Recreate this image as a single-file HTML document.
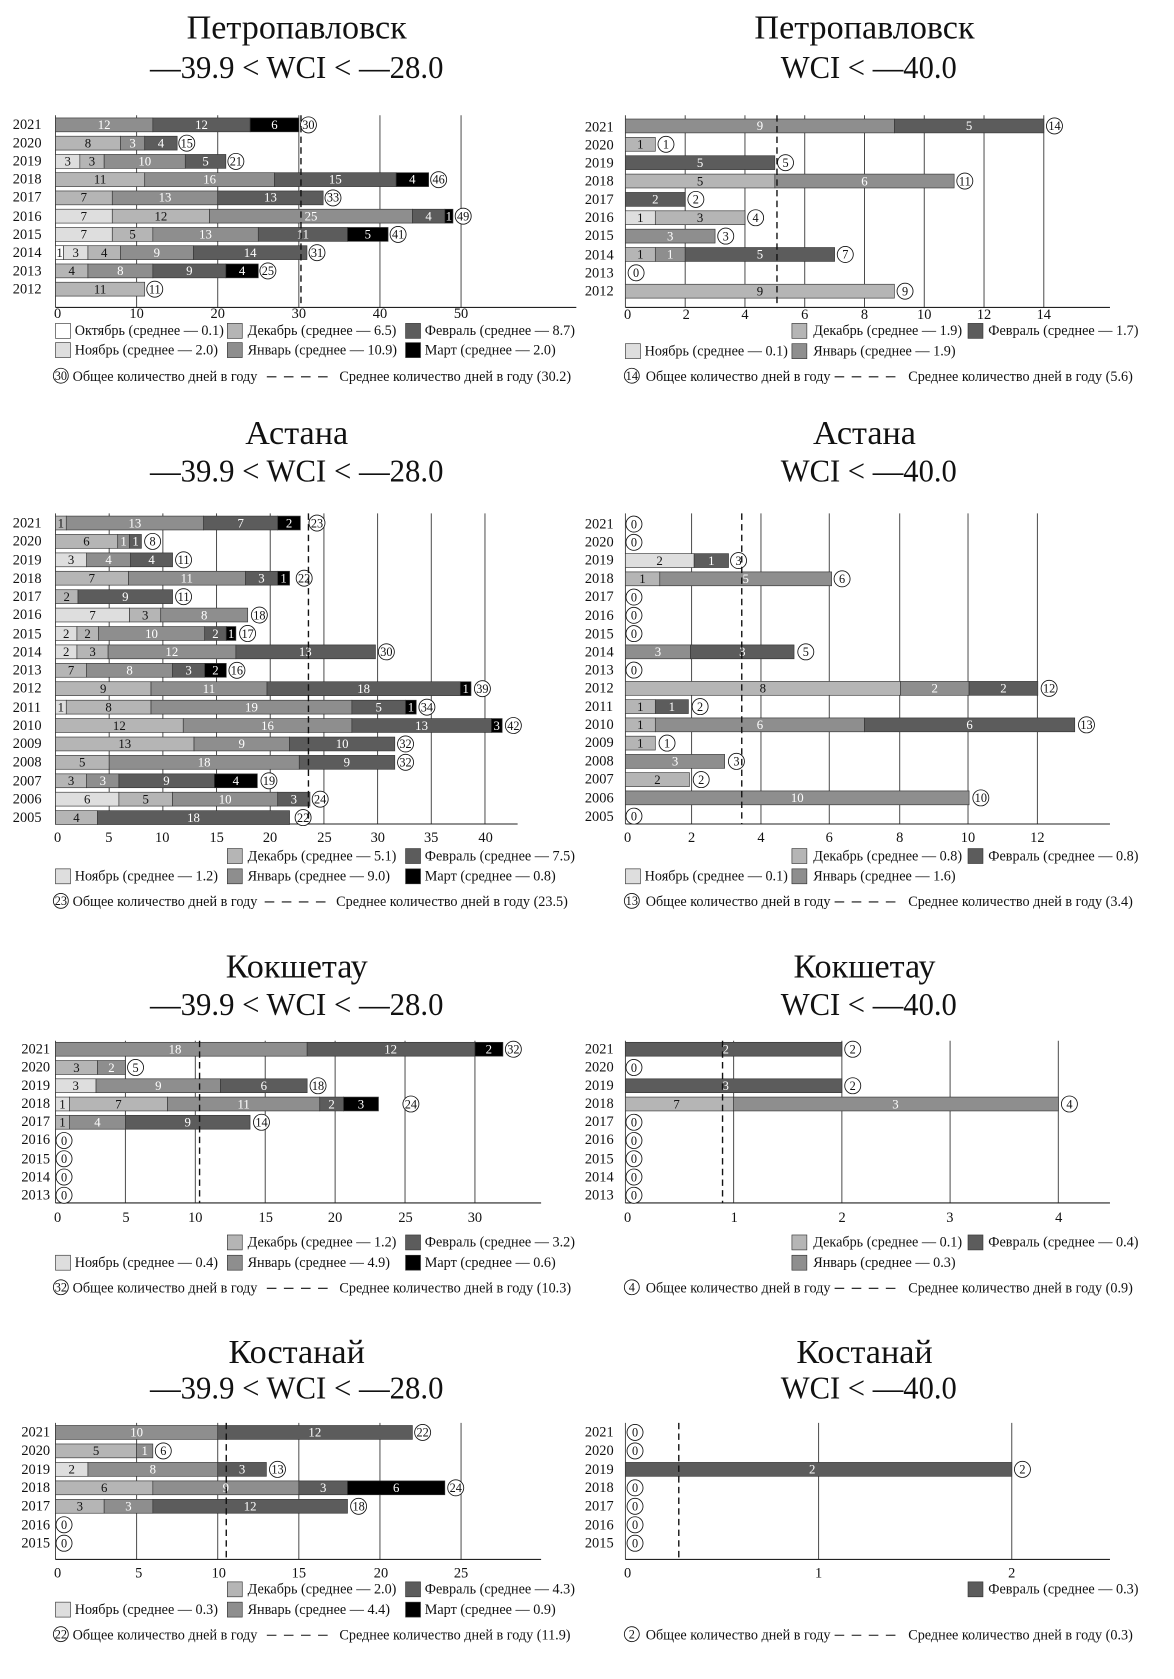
<!DOCTYPE html>
<html><head><meta charset="utf-8"><style>
html,body{margin:0;padding:0;background:#fff;}
svg{display:block;}
text{font-family:"Liberation Serif",serif;fill:#111;}
.t{font-size:32px;text-anchor:middle;}
.t2{font-size:30px;text-anchor:middle;}
.y{font-size:13.5px;}
.k{font-size:13.5px;text-anchor:middle;}
.l{font-size:13.3px;}
.b{font-size:12px;text-anchor:middle;}
.w{fill:#fff;}
.c{font-size:11.5px;text-anchor:middle;}
rect{stroke:#333;stroke-width:0.6;}
.o{fill:#fff}.n{fill:#dedede}.d{fill:#b5b5b5}.j{fill:#8e8e8e}.f{fill:#5c5c5c}.m{fill:#000}
.g{stroke:#444;stroke-width:0.9;}
.a{stroke:#222;stroke-width:1;}
.ds{stroke:#111;stroke-width:1.3;stroke-dasharray:6,4;}
.dl{stroke:#111;stroke-width:1;stroke-dasharray:9,7;}
circle{fill:#fff;stroke:#111;stroke-width:0.8;}
</style></head><body>
<svg width="1174" height="1679" viewBox="0 0 1100 1573" preserveAspectRatio="none" xmlns="http://www.w3.org/2000/svg">

<!-- ============ PANEL 1 ============ -->
<text class="t" x="278" y="36">Петропавловск</text>
<text class="t2" x="278" y="73" textLength="275" lengthAdjust="spacingAndGlyphs">—39.9 &lt; WCI &lt; —28.0</text>
<g>
<line class="g" x1="52" y1="108" x2="52" y2="288"/>
<line class="g" x1="128" y1="108" x2="128" y2="288"/>
<line class="g" x1="204" y1="108" x2="204" y2="288"/>
<line class="g" x1="280" y1="108" x2="280" y2="288"/>
<line class="g" x1="356" y1="108" x2="356" y2="288"/>
<line class="g" x1="432" y1="108" x2="432" y2="288"/>
<line class="a" x1="52" y1="288" x2="540" y2="288"/>
<text class="k" x="54" y="298">0</text><text class="k" x="128" y="298">10</text><text class="k" x="204" y="298">20</text><text class="k" x="280" y="298">30</text><text class="k" x="356" y="298">40</text><text class="k" x="432" y="298">50</text>
<text class="y" x="12" y="121">2021</text><text class="y" x="12" y="138">2020</text><text class="y" x="12" y="155">2019</text><text class="y" x="12" y="172">2018</text><text class="y" x="12" y="189">2017</text><text class="y" x="12" y="207">2016</text><text class="y" x="12" y="224">2015</text><text class="y" x="12" y="241">2014</text><text class="y" x="12" y="258">2013</text><text class="y" x="12" y="275">2012</text>

<rect class="j" x="52" y="110.5" width="91.2" height="13"/><text class="b w" x="97.6" y="121">12</text>
<rect class="f" x="143.2" y="110.5" width="91.2" height="13"/><text class="b w" x="188.8" y="121">12</text>
<rect class="m" x="234.4" y="110.5" width="45.6" height="13"/><text class="b w" x="257.2" y="121">6</text>
<circle cx="289" cy="117" r="7.5"/><text class="c" x="289" y="121">30</text>

<rect class="d" x="52" y="127.6" width="60.8" height="13"/><text class="b" x="82.4" y="138">8</text>
<rect class="j" x="112.8" y="127.6" width="22.8" height="13"/><text class="b w" x="124.2" y="138">3</text>
<rect class="f" x="135.6" y="127.6" width="30.4" height="13"/><text class="b w" x="150.8" y="138">4</text>
<circle cx="175" cy="134.1" r="7.5"/><text class="c" x="175" y="138">15</text>

<rect class="n" x="52" y="144.7" width="22.8" height="13"/><text class="b" x="63.4" y="155">3</text>
<rect class="d" x="74.8" y="144.7" width="22.8" height="13"/><text class="b" x="86.2" y="155">3</text>
<rect class="j" x="97.6" y="144.7" width="76" height="13"/><text class="b w" x="135.6" y="155">10</text>
<rect class="f" x="173.6" y="144.7" width="38" height="13"/><text class="b w" x="192.6" y="155">5</text>
<circle cx="221" cy="151.2" r="7.5"/><text class="c" x="221" y="155">21</text>

<rect class="d" x="52" y="161.8" width="83.6" height="13"/><text class="b" x="93.8" y="172">11</text>
<rect class="j" x="135.6" y="161.8" width="121.6" height="13"/><text class="b w" x="196.4" y="172">16</text>
<rect class="f" x="257.2" y="161.8" width="114" height="13"/><text class="b w" x="314.2" y="172">15</text>
<rect class="m" x="371.2" y="161.8" width="30.4" height="13"/><text class="b w" x="386.4" y="172">4</text>
<circle cx="411" cy="168.3" r="7.5"/><text class="c" x="411" y="172">46</text>

<rect class="d" x="52" y="178.9" width="53.2" height="13"/><text class="b" x="78.6" y="189">7</text>
<rect class="j" x="105.2" y="178.9" width="98.8" height="13"/><text class="b w" x="154.6" y="189">13</text>
<rect class="f" x="204" y="178.9" width="98.8" height="13"/><text class="b w" x="253.4" y="189">13</text>
<circle cx="312" cy="185.4" r="7.5"/><text class="c" x="312" y="189">33</text>

<rect class="n" x="52" y="196" width="53.2" height="13"/><text class="b" x="78.6" y="206.5">7</text>
<rect class="d" x="105.2" y="196" width="91.2" height="13"/><text class="b" x="150.8" y="206.5">12</text>
<rect class="j" x="196.4" y="196" width="190" height="13"/><text class="b w" x="291.4" y="206.5">25</text>
<rect class="f" x="386.4" y="196" width="30.4" height="13"/><text class="b w" x="401.6" y="206.5">4</text>
<rect class="m" x="416.8" y="196" width="7.6" height="13"/><text class="b w" x="420.6" y="206.5">1</text>
<circle cx="434" cy="202.5" r="7.5"/><text class="c" x="434" y="206.5">49</text>

<rect class="n" x="52" y="213.1" width="53.2" height="13"/><text class="b" x="78.6" y="223.6">7</text>
<rect class="d" x="105.2" y="213.1" width="38" height="13"/><text class="b" x="124.2" y="223.6">5</text>
<rect class="j" x="143.2" y="213.1" width="98.8" height="13"/><text class="b w" x="192.6" y="223.6">13</text>
<rect class="f" x="242" y="213.1" width="83.6" height="13"/><text class="b w" x="283.8" y="223.6">11</text>
<rect class="m" x="325.6" y="213.1" width="38" height="13"/><text class="b w" x="344.6" y="223.6">5</text>
<circle cx="373" cy="219.6" r="7.5"/><text class="c" x="373" y="223.6">41</text>

<rect class="o" x="52" y="230.2" width="7.6" height="13"/><text class="b" x="55.8" y="240.7">1</text>
<rect class="n" x="59.6" y="230.2" width="22.8" height="13"/><text class="b" x="71" y="240.7">3</text>
<rect class="d" x="82.4" y="230.2" width="30.4" height="13"/><text class="b" x="97.6" y="240.7">4</text>
<rect class="j" x="112.8" y="230.2" width="68.4" height="13"/><text class="b w" x="147" y="240.7">9</text>
<rect class="f" x="181.2" y="230.2" width="106.4" height="13"/><text class="b w" x="234.4" y="240.7">14</text>
<circle cx="297" cy="236.7" r="7.5"/><text class="c" x="297" y="240.7">31</text>

<rect class="d" x="52" y="247.3" width="30.4" height="13"/><text class="b" x="67.2" y="257.8">4</text>
<rect class="j" x="82.4" y="247.3" width="60.8" height="13"/><text class="b w" x="112.8" y="257.8">8</text>
<rect class="f" x="143.2" y="247.3" width="68.4" height="13"/><text class="b w" x="177.4" y="257.8">9</text>
<rect class="m" x="211.6" y="247.3" width="30.4" height="13"/><text class="b w" x="226.8" y="257.8">4</text>
<circle cx="251" cy="253.8" r="7.5"/><text class="c" x="251" y="257.8">25</text>

<rect class="d" x="52" y="264.4" width="83.6" height="13"/><text class="b" x="93.8" y="274.9">11</text>
<circle cx="145" cy="270.9" r="7.5"/><text class="c" x="145" y="274.9">11</text>
<line class="ds" x1="282" y1="108" x2="282" y2="288"/>

<rect class="o" x="52" y="303" width="14" height="14"/><text class="l" x="70" y="314">Октябрь (среднее — 0.1)</text>
<rect class="d" x="213" y="303" width="14" height="14"/><text class="l" x="232" y="314">Декабрь (среднее — 6.5)</text>
<rect class="f" x="380" y="303" width="14" height="14"/><text class="l" x="398" y="314">Февраль (среднее — 8.7)</text>
<rect class="n" x="52" y="321" width="14" height="14"/><text class="l" x="70" y="332">Ноябрь (среднее — 2.0)</text>
<rect class="j" x="213" y="321" width="14" height="14"/><text class="l" x="232" y="332">Январь (среднее — 10.9)</text>
<rect class="m" x="380" y="321" width="14" height="14"/><text class="l" x="398" y="332">Март (среднее  —  2.0)</text>
<circle cx="57" cy="352" r="7"/><text class="c" x="57" y="356">30</text>
<text class="l" x="68" y="357">Общее количество дней в году</text>
<line class="dl" x1="250" y1="353" x2="314" y2="353"/>
<text class="l" x="318" y="357">Среднее количество дней в году (30.2)</text>
</g>

<!-- ============ PANEL 2 ============ -->
<text class="t" x="810" y="36">Петропавловск</text>
<text class="t2" x="814" y="73" textLength="165" lengthAdjust="spacingAndGlyphs">WCI &lt; —40.0</text>
<g>
<line class="g" x1="586" y1="108" x2="586" y2="288"/>
<line class="g" x1="642" y1="108" x2="642" y2="288"/>
<line class="g" x1="698" y1="108" x2="698" y2="288"/>
<line class="g" x1="754" y1="108" x2="754" y2="288"/>
<line class="g" x1="810" y1="108" x2="810" y2="288"/>
<line class="g" x1="866" y1="108" x2="866" y2="288"/>
<line class="g" x1="922" y1="108" x2="922" y2="288"/>
<line class="g" x1="978" y1="108" x2="978" y2="288"/>
<line class="a" x1="586" y1="288" x2="1040" y2="288"/>
<text class="k" x="588" y="299">0</text><text class="k" x="643" y="299">2</text><text class="k" x="698" y="299">4</text><text class="k" x="754" y="299">6</text><text class="k" x="810" y="299">8</text><text class="k" x="866" y="299">10</text><text class="k" x="922" y="299">12</text><text class="k" x="978" y="299">14</text>
<text class="y" x="548" y="123">2021</text><text class="y" x="548" y="140">2020</text><text class="y" x="548" y="157">2019</text><text class="y" x="548" y="174">2018</text><text class="y" x="548" y="191">2017</text><text class="y" x="548" y="208">2016</text><text class="y" x="548" y="225">2015</text><text class="y" x="548" y="243">2014</text><text class="y" x="548" y="260">2013</text><text class="y" x="548" y="277">2012</text>

<rect class="j" x="586" y="111.5" width="252" height="13"/><text class="b w" x="712" y="122">9</text>
<rect class="f" x="838" y="111.5" width="140" height="13"/><text class="b w" x="908" y="122">5</text>
<circle cx="988" cy="118" r="7.5"/><text class="c" x="988" y="122">14</text>
<rect class="d" x="586" y="128.7" width="28" height="13"/><text class="b" x="600" y="139">1</text>
<circle cx="624" cy="135.2" r="7.5"/><text class="c" x="624" y="139">1</text>
<rect class="f" x="586" y="145.9" width="140" height="13"/><text class="b w" x="656" y="156.4">5</text>
<circle cx="736" cy="152.4" r="7.5"/><text class="c" x="736" y="156.4">5</text>
<rect class="d" x="586" y="163.1" width="140" height="13"/><text class="b" x="656" y="173.6">5</text>
<rect class="j" x="726" y="163.1" width="168" height="13"/><text class="b w" x="810" y="173.6">6</text>
<circle cx="904" cy="169.6" r="7.5"/><text class="c" x="904" y="173.6">11</text>
<rect class="f" x="586" y="180.3" width="56" height="13"/><text class="b w" x="614" y="190.8">2</text>
<circle cx="652" cy="186.8" r="7.5"/><text class="c" x="652" y="190.8">2</text>
<rect class="n" x="586" y="197.5" width="28" height="13"/><text class="b" x="600" y="208">1</text>
<rect class="d" x="614" y="197.5" width="84" height="13"/><text class="b" x="656" y="208">3</text>
<circle cx="708" cy="204" r="7.5"/><text class="c" x="708" y="208">4</text>
<rect class="j" x="586" y="214.7" width="84" height="13"/><text class="b w" x="628" y="225.2">3</text>
<circle cx="680" cy="221.2" r="7.5"/><text class="c" x="680" y="225.2">3</text>
<rect class="d" x="586" y="231.9" width="28" height="13"/><text class="b" x="600" y="242.4">1</text>
<rect class="j" x="614" y="231.9" width="28" height="13"/><text class="b w" x="628" y="242.4">1</text>
<rect class="f" x="642" y="231.9" width="140" height="13"/><text class="b w" x="712" y="242.4">5</text>
<circle cx="792" cy="238.4" r="7.5"/><text class="c" x="792" y="242.4">7</text>
<circle cx="596" cy="255.6" r="7.5"/><text class="c" x="596" y="259.6">0</text>
<rect class="d" x="586" y="266.3" width="252" height="13"/><text class="b" x="712" y="276.8">9</text>
<circle cx="848" cy="272.8" r="7.5"/><text class="c" x="848" y="276.8">9</text>
<line class="ds" x1="728" y1="108" x2="728" y2="288"/>

<rect class="d" x="742" y="303" width="14" height="14"/><text class="l" x="762" y="314">Декабрь (среднее — 1.9)</text>
<rect class="f" x="907" y="303" width="14" height="14"/><text class="l" x="926" y="314">Февраль (среднее — 1.7)</text>
<rect class="n" x="586" y="322" width="14" height="14"/><text class="l" x="604" y="333">Ноябрь (среднее — 0.1)</text>
<rect class="j" x="742" y="322" width="14" height="14"/><text class="l" x="762" y="333">Январь (среднее — 1.9)</text>
<circle cx="592" cy="352" r="7"/><text class="c" x="592" y="356">14</text>
<text class="l" x="605" y="357">Общее количество дней в году</text>
<line class="dl" x1="782" y1="353" x2="846" y2="353"/>
<text class="l" x="851" y="357">Среднее количество дней в году (5.6)</text>
</g>

<!-- ============ PANEL 3 ============ -->
<text class="t" x="278" y="416">Астана</text>
<text class="t2" x="278" y="451" textLength="275" lengthAdjust="spacingAndGlyphs">—39.9 &lt; WCI &lt; —28.0</text>
<g>
<line class="g" x1="52" y1="481" x2="52" y2="772"/>
<line class="g" x1="102.3" y1="481" x2="102.3" y2="772"/>
<line class="g" x1="152.6" y1="481" x2="152.6" y2="772"/>
<line class="g" x1="202.9" y1="481" x2="202.9" y2="772"/>
<line class="g" x1="253.2" y1="481" x2="253.2" y2="772"/>
<line class="g" x1="303.5" y1="481" x2="303.5" y2="772"/>
<line class="g" x1="353.8" y1="481" x2="353.8" y2="772"/>
<line class="g" x1="404.1" y1="481" x2="404.1" y2="772"/>
<line class="g" x1="454.4" y1="481" x2="454.4" y2="772"/>
<line class="a" x1="52" y1="772" x2="485" y2="772"/>
<text class="k" x="54" y="789">0</text><text class="k" x="102" y="789">5</text><text class="k" x="152" y="789">10</text><text class="k" x="203" y="789">15</text><text class="k" x="253" y="789">20</text><text class="k" x="304" y="789">25</text><text class="k" x="354" y="789">30</text><text class="k" x="404" y="789">35</text><text class="k" x="455" y="789">40</text>
<text class="y" x="12" y="494">2021</text><text class="y" x="12" y="511">2020</text><text class="y" x="12" y="529">2019</text><text class="y" x="12" y="546">2018</text><text class="y" x="12" y="563">2017</text><text class="y" x="12" y="580">2016</text><text class="y" x="12" y="598">2015</text><text class="y" x="12" y="615">2014</text><text class="y" x="12" y="632">2013</text><text class="y" x="12" y="649">2012</text><text class="y" x="12" y="667">2011</text><text class="y" x="12" y="684">2010</text><text class="y" x="12" y="701">2009</text><text class="y" x="12" y="718">2008</text><text class="y" x="12" y="736">2007</text><text class="y" x="12" y="753">2006</text><text class="y" x="12" y="770">2005</text>

<rect class="d" x="52" y="483.5" width="10.1" height="13"/><text class="b" x="57" y="494">1</text>
<rect class="j" x="62.1" y="483.5" width="128.7" height="13"/><text class="b w" x="126.4" y="494">13</text>
<rect class="f" x="190.8" y="483.5" width="69.4" height="13"/><text class="b w" x="225.5" y="494">7</text>
<rect class="m" x="260.2" y="483.5" width="21.2" height="13"/><text class="b w" x="270.8" y="494">2</text>
<circle cx="297" cy="490" r="7.5"/><text class="c" x="297" y="494">23</text>

<rect class="d" x="52" y="500.7" width="58.3" height="13"/><text class="b" x="81" y="511.2">6</text>
<rect class="j" x="110.3" y="500.7" width="11.1" height="13"/><text class="b w" x="115.8" y="511.2">1</text>
<rect class="f" x="121.4" y="500.7" width="11.1" height="13"/><text class="b w" x="127" y="511.2">1</text>
<circle cx="143" cy="507.2" r="7.5"/><text class="c" x="143" y="511.2">8</text>

<rect class="n" x="52" y="518" width="29.2" height="13"/><text class="b" x="66.6" y="528.5">3</text>
<rect class="j" x="81.2" y="518" width="41.2" height="13"/><text class="b w" x="101.8" y="528.5">4</text>
<rect class="f" x="122.4" y="518" width="39.3" height="13"/><text class="b w" x="142" y="528.5">4</text>
<circle cx="172" cy="524.5" r="7.5"/><text class="c" x="172" y="528.5">11</text>

<rect class="d" x="52" y="535.2" width="68.4" height="13"/><text class="b" x="86" y="545.7">7</text>
<rect class="j" x="120.4" y="535.2" width="109.7" height="13"/><text class="b w" x="175" y="545.7">11</text>
<rect class="f" x="230.1" y="535.2" width="30.1" height="13"/><text class="b w" x="245" y="545.7">3</text>
<rect class="m" x="260.2" y="535.2" width="11.1" height="13"/><text class="b w" x="265.7" y="545.7">1</text>
<circle cx="285" cy="541.7" r="7.5"/><text class="c" x="285" y="545.7">22</text>

<rect class="d" x="52" y="552.5" width="21.1" height="13"/><text class="b" x="62.5" y="563">2</text>
<rect class="f" x="73.1" y="552.5" width="88.6" height="13"/><text class="b w" x="117.4" y="563">9</text>
<circle cx="172" cy="559" r="7.5"/><text class="c" x="172" y="563">11</text>

<rect class="n" x="52" y="569.7" width="69.4" height="13"/><text class="b" x="86.7" y="580.2">7</text>
<rect class="d" x="121.4" y="569.7" width="29.2" height="13"/><text class="b" x="136" y="580.2">3</text>
<rect class="j" x="150.6" y="569.7" width="81.5" height="13"/><text class="b w" x="191.3" y="580.2">8</text>
<circle cx="243" cy="576.2" r="7.5"/><text class="c" x="243" y="580.2">18</text>

<rect class="n" x="52" y="587" width="20.1" height="13"/><text class="b" x="62" y="597.5">2</text>
<rect class="d" x="72.1" y="587" width="20.1" height="13"/><text class="b" x="82.1" y="597.5">2</text>
<rect class="j" x="92.2" y="587" width="99.6" height="13"/><text class="b w" x="142" y="597.5">10</text>
<rect class="f" x="191.8" y="587" width="20.2" height="13"/><text class="b w" x="201.9" y="597.5">2</text>
<rect class="m" x="212" y="587" width="9" height="13"/><text class="b w" x="216.5" y="597.5">1</text>
<circle cx="232" cy="593.5" r="7.5"/><text class="c" x="232" y="597.5">17</text>

<rect class="n" x="52" y="604.2" width="20.1" height="13"/><text class="b" x="62" y="614.7">2</text>
<rect class="d" x="72.1" y="604.2" width="29.2" height="13"/><text class="b" x="86.7" y="614.7">3</text>
<rect class="j" x="101.3" y="604.2" width="119.7" height="13"/><text class="b w" x="161" y="614.7">12</text>
<rect class="f" x="221" y="604.2" width="130.8" height="13"/><text class="b w" x="286" y="614.7">13</text>
<circle cx="362" cy="610.7" r="7.5"/><text class="c" x="362" y="614.7">30</text>

<rect class="d" x="52" y="621.5" width="29.2" height="13"/><text class="b" x="66.6" y="632">7</text>
<rect class="j" x="81.2" y="621.5" width="80.5" height="13"/><text class="b w" x="121.4" y="632">8</text>
<rect class="f" x="161.7" y="621.5" width="30.1" height="13"/><text class="b w" x="176.7" y="632">3</text>
<rect class="m" x="191.8" y="621.5" width="20.2" height="13"/><text class="b w" x="201.9" y="632">2</text>
<circle cx="222" cy="628" r="7.5"/><text class="c" x="222" y="632">16</text>

<rect class="d" x="52" y="638.7" width="89.5" height="13"/><text class="b" x="96.7" y="649.2">9</text>
<rect class="j" x="141.5" y="638.7" width="108.7" height="13"/><text class="b w" x="195.8" y="649.2">11</text>
<rect class="f" x="250.2" y="638.7" width="181.1" height="13"/><text class="b w" x="340.7" y="649.2">18</text>
<rect class="m" x="431.3" y="638.7" width="10" height="13"/><text class="b w" x="436.3" y="649.2">1</text>
<circle cx="452" cy="645.2" r="7.5"/><text class="c" x="452" y="649.2">39</text>

<rect class="n" x="52" y="656" width="10.1" height="13"/><text class="b" x="57" y="666.5">1</text>
<rect class="d" x="62.1" y="656" width="79.4" height="13"/><text class="b" x="101.8" y="666.5">8</text>
<rect class="j" x="141.5" y="656" width="188.2" height="13"/><text class="b w" x="235.6" y="666.5">19</text>
<rect class="f" x="329.7" y="656" width="50.3" height="13"/><text class="b w" x="354.8" y="666.5">5</text>
<rect class="m" x="380" y="656" width="10" height="13"/><text class="b w" x="385" y="666.5">1</text>
<circle cx="400" cy="662.5" r="7.5"/><text class="c" x="400" y="666.5">34</text>

<rect class="d" x="52" y="673.2" width="119.7" height="13"/><text class="b" x="111.8" y="683.7">12</text>
<rect class="j" x="171.7" y="673.2" width="158" height="13"/><text class="b w" x="250.7" y="683.7">16</text>
<rect class="f" x="329.7" y="673.2" width="130.7" height="13"/><text class="b w" x="395" y="683.7">13</text>
<rect class="m" x="460.4" y="673.2" width="10.1" height="13"/><text class="b w" x="465.4" y="683.7">3</text>
<circle cx="481" cy="679.7" r="7.5"/><text class="c" x="481" y="683.7">42</text>

<rect class="d" x="52" y="690.5" width="129.8" height="13"/><text class="b" x="116.9" y="701">13</text>
<rect class="j" x="181.8" y="690.5" width="89.5" height="13"/><text class="b w" x="226.5" y="701">9</text>
<rect class="f" x="271.3" y="690.5" width="98.6" height="13"/><text class="b w" x="320.6" y="701">10</text>
<circle cx="380" cy="697" r="7.5"/><text class="c" x="380" y="701">32</text>

<rect class="d" x="52" y="707.7" width="50.3" height="13"/><text class="b" x="77" y="718.2">5</text>
<rect class="j" x="102.3" y="707.7" width="178.1" height="13"/><text class="b w" x="191.3" y="718.2">18</text>
<rect class="f" x="280.4" y="707.7" width="89.5" height="13"/><text class="b w" x="325" y="718.2">9</text>
<circle cx="380" cy="714.2" r="7.5"/><text class="c" x="380" y="718.2">32</text>

<rect class="d" x="52" y="725" width="29.2" height="13"/><text class="b" x="66.6" y="735.5">3</text>
<rect class="j" x="81.2" y="725" width="30.2" height="13"/><text class="b w" x="96.3" y="735.5">3</text>
<rect class="f" x="111.4" y="725" width="89.5" height="13"/><text class="b w" x="156" y="735.5">9</text>
<rect class="m" x="200.9" y="725" width="40.2" height="13"/><text class="b w" x="221" y="735.5">4</text>
<circle cx="252" cy="731.5" r="7.5"/><text class="c" x="252" y="735.5">19</text>

<rect class="n" x="52" y="742.2" width="59.4" height="13"/><text class="b" x="81.7" y="752.7">6</text>
<rect class="d" x="111.4" y="742.2" width="50.3" height="13"/><text class="b" x="136.5" y="752.7">5</text>
<rect class="j" x="161.7" y="742.2" width="98.5" height="13"/><text class="b w" x="211" y="752.7">10</text>
<rect class="f" x="260.2" y="742.2" width="30.2" height="13"/><text class="b w" x="275.3" y="752.7">3</text>
<circle cx="300" cy="748.7" r="7.5"/><text class="c" x="300" y="752.7">24</text>

<rect class="d" x="52" y="759.5" width="39.2" height="13"/><text class="b" x="71.6" y="770">4</text>
<rect class="f" x="91.2" y="759.5" width="180.1" height="13"/><text class="b w" x="181.3" y="770">18</text>
<circle cx="284" cy="766" r="7.5"/><text class="c" x="284" y="770">22</text>
<line class="ds" x1="289" y1="481" x2="289" y2="772"/>

<rect class="d" x="213" y="795" width="14" height="14"/><text class="l" x="232" y="806">Декабрь (среднее — 5.1)</text>
<rect class="f" x="380" y="795" width="14" height="14"/><text class="l" x="398" y="806">Февраль (среднее — 7.5)</text>
<rect class="n" x="52" y="814" width="14" height="14"/><text class="l" x="70" y="825">Ноябрь (среднее — 1.2)</text>
<rect class="j" x="213" y="814" width="14" height="14"/><text class="l" x="232" y="825">Январь (среднее — 9.0)</text>
<rect class="m" x="380" y="814" width="14" height="14"/><text class="l" x="398" y="825">Март (среднее  —  0.8)</text>
<circle cx="57" cy="844" r="7"/><text class="c" x="57" y="848">23</text>
<text class="l" x="68" y="849">Общее количество дней в году</text>
<line class="dl" x1="248" y1="845" x2="310" y2="845"/>
<text class="l" x="315" y="849">Среднее количество дней в году (23.5)</text>
</g>

<!-- ============ PANEL 4 ============ -->
<text class="t" x="810" y="416">Астана</text>
<text class="t2" x="814" y="451" textLength="165" lengthAdjust="spacingAndGlyphs">WCI &lt; —40.0</text>
<g>
<line class="g" x1="586" y1="481" x2="586" y2="772"/>
<line class="g" x1="648" y1="481" x2="648" y2="772"/>
<line class="g" x1="713" y1="481" x2="713" y2="772"/>
<line class="g" x1="777" y1="481" x2="777" y2="772"/>
<line class="g" x1="843" y1="481" x2="843" y2="772"/>
<line class="g" x1="907" y1="481" x2="907" y2="772"/>
<line class="g" x1="972" y1="481" x2="972" y2="772"/>
<line class="a" x1="586" y1="772" x2="1040" y2="772"/>
<text class="k" x="588" y="789">0</text><text class="k" x="648" y="789">2</text><text class="k" x="713" y="789">4</text><text class="k" x="777" y="789">6</text><text class="k" x="843" y="789">8</text><text class="k" x="907" y="789">10</text><text class="k" x="972" y="789">12</text>
<text class="y" x="548" y="495">2021</text><text class="y" x="548" y="512">2020</text><text class="y" x="548" y="529">2019</text><text class="y" x="548" y="546">2018</text><text class="y" x="548" y="563">2017</text><text class="y" x="548" y="581">2016</text><text class="y" x="548" y="598">2015</text><text class="y" x="548" y="615">2014</text><text class="y" x="548" y="632">2013</text><text class="y" x="548" y="649">2012</text><text class="y" x="548" y="666">2011</text><text class="y" x="548" y="683">2010</text><text class="y" x="548" y="700">2009</text><text class="y" x="548" y="717">2008</text><text class="y" x="548" y="734">2007</text><text class="y" x="548" y="752">2006</text><text class="y" x="548" y="769">2005</text>

<circle cx="594" cy="491" r="7.5"/><text class="c" x="594" y="495">0</text>
<circle cx="594" cy="508.1" r="7.5"/><text class="c" x="594" y="512">0</text>
<rect class="n" x="586" y="518.7" width="64.4" height="13"/><text class="b" x="618" y="529.2">2</text>
<rect class="f" x="650.4" y="518.7" width="32.2" height="13"/><text class="b w" x="666.5" y="529.2">1</text>
<circle cx="692" cy="525.2" r="7.5"/><text class="c" x="692" y="529.2">3</text>
<rect class="d" x="586" y="535.8" width="32.2" height="13"/><text class="b" x="602" y="546.3">1</text>
<rect class="j" x="618.2" y="535.8" width="161" height="13"/><text class="b w" x="698.7" y="546.3">5</text>
<circle cx="789" cy="542.3" r="7.5"/><text class="c" x="789" y="546.3">6</text>
<circle cx="594" cy="559.4" r="7.5"/><text class="c" x="594" y="563.4">0</text>
<circle cx="594" cy="576.5" r="7.5"/><text class="c" x="594" y="580.5">0</text>
<circle cx="594" cy="593.6" r="7.5"/><text class="c" x="594" y="597.6">0</text>
<rect class="j" x="586" y="604.2" width="61" height="13"/><text class="b w" x="616.5" y="614.7">3</text>
<rect class="f" x="647" y="604.2" width="97" height="13"/><text class="b w" x="695.5" y="614.7">3</text>
<circle cx="755" cy="610.7" r="7.5"/><text class="c" x="755" y="614.7">5</text>
<circle cx="594" cy="627.8" r="7.5"/><text class="c" x="594" y="631.8">0</text>
<rect class="d" x="586" y="638.4" width="257.6" height="13"/><text class="b" x="714.8" y="648.9">8</text>
<rect class="j" x="843.6" y="638.4" width="64.4" height="13"/><text class="b w" x="875.8" y="648.9">2</text>
<rect class="f" x="908" y="638.4" width="64.4" height="13"/><text class="b w" x="940.2" y="648.9">2</text>
<circle cx="983" cy="644.9" r="7.5"/><text class="c" x="983" y="648.9">12</text>
<rect class="d" x="586" y="655.5" width="28" height="13"/><text class="b" x="600" y="666">1</text>
<rect class="f" x="614" y="655.5" width="31" height="13"/><text class="b w" x="629.5" y="666">1</text>
<circle cx="656" cy="662" r="7.5"/><text class="c" x="656" y="666">2</text>
<rect class="d" x="586" y="672.6" width="28" height="13"/><text class="b" x="600" y="683.1">1</text>
<rect class="j" x="614" y="672.6" width="196" height="13"/><text class="b w" x="712" y="683.1">6</text>
<rect class="f" x="810" y="672.6" width="197" height="13"/><text class="b w" x="908.5" y="683.1">6</text>
<circle cx="1018" cy="679.1" r="7.5"/><text class="c" x="1018" y="683.1">13</text>
<rect class="d" x="586" y="689.7" width="28" height="13"/><text class="b" x="600" y="700.2">1</text>
<circle cx="625" cy="696.2" r="7.5"/><text class="c" x="625" y="700.2">1</text>
<rect class="j" x="586" y="706.8" width="93" height="13"/><text class="b w" x="632.5" y="717.3">3</text>
<circle cx="690" cy="713.3" r="7.5"/><text class="c" x="690" y="717.3">3</text>
<rect class="d" x="586" y="723.9" width="60" height="13"/><text class="b" x="616" y="734.4">2</text>
<circle cx="657" cy="730.4" r="7.5"/><text class="c" x="657" y="734.4">2</text>
<rect class="j" x="586" y="741" width="322" height="13"/><text class="b w" x="747" y="751.5">10</text>
<circle cx="919" cy="747.5" r="7.5"/><text class="c" x="919" y="751.5">10</text>
<circle cx="594" cy="764.6" r="7.5"/><text class="c" x="594" y="768.6">0</text>
<line class="ds" x1="695" y1="481" x2="695" y2="772"/>

<rect class="d" x="742" y="795" width="14" height="14"/><text class="l" x="762" y="806">Декабрь (среднее — 0.8)</text>
<rect class="f" x="907" y="795" width="14" height="14"/><text class="l" x="926" y="806">Февраль (среднее — 0.8)</text>
<rect class="n" x="586" y="814" width="14" height="14"/><text class="l" x="604" y="825">Ноябрь (среднее — 0.1)</text>
<rect class="j" x="742" y="814" width="14" height="14"/><text class="l" x="762" y="825">Январь (среднее — 1.6)</text>
<circle cx="592" cy="844" r="7"/><text class="c" x="592" y="848">13</text>
<text class="l" x="605" y="849">Общее количество дней в году</text>
<line class="dl" x1="782" y1="845" x2="846" y2="845"/>
<text class="l" x="851" y="849">Среднее количество дней в году (3.4)</text>
</g>

<!-- ============ PANEL 5 ============ -->
<text class="t" x="278" y="916">Кокшетау</text>
<text class="t2" x="278" y="951" textLength="275" lengthAdjust="spacingAndGlyphs">—39.9 &lt; WCI &lt; —28.0</text>
<g>
<line class="g" x1="52" y1="975" x2="52" y2="1127"/>
<line class="g" x1="117.5" y1="975" x2="117.5" y2="1127"/>
<line class="g" x1="183" y1="975" x2="183" y2="1127"/>
<line class="g" x1="248.5" y1="975" x2="248.5" y2="1127"/>
<line class="g" x1="314" y1="975" x2="314" y2="1127"/>
<line class="g" x1="379.5" y1="975" x2="379.5" y2="1127"/>
<line class="g" x1="445" y1="975" x2="445" y2="1127"/>
<line class="a" x1="52" y1="1127" x2="507" y2="1127"/>
<text class="k" x="54" y="1145">0</text><text class="k" x="118" y="1145">5</text><text class="k" x="183" y="1145">10</text><text class="k" x="249" y="1145">15</text><text class="k" x="314" y="1145">20</text><text class="k" x="380" y="1145">25</text><text class="k" x="445" y="1145">30</text>
<text class="y" x="20" y="987">2021</text><text class="y" x="20" y="1004">2020</text><text class="y" x="20" y="1021">2019</text><text class="y" x="20" y="1038">2018</text><text class="y" x="20" y="1055">2017</text><text class="y" x="20" y="1072">2016</text><text class="y" x="20" y="1090">2015</text><text class="y" x="20" y="1107">2014</text><text class="y" x="20" y="1124">2013</text>

<rect class="j" x="52" y="976.5" width="235.8" height="13"/><text class="b w" x="164" y="987">18</text>
<rect class="f" x="287.8" y="976.5" width="157.2" height="13"/><text class="b w" x="366" y="987">12</text>
<rect class="m" x="445" y="976.5" width="26.2" height="13"/><text class="b w" x="458" y="987">2</text>
<circle cx="481" cy="983" r="7.5"/><text class="c" x="481" y="987">32</text>
<rect class="d" x="52" y="993.6" width="39.3" height="13"/><text class="b" x="71.6" y="1004.1">3</text>
<rect class="j" x="91.3" y="993.6" width="26.2" height="13"/><text class="b w" x="104.4" y="1004.1">2</text>
<circle cx="127" cy="1000.1" r="7.5"/><text class="c" x="127" y="1004.1">5</text>
<rect class="n" x="52" y="1010.7" width="38" height="13"/><text class="b" x="71" y="1021.2">3</text>
<rect class="j" x="90" y="1010.7" width="116.6" height="13"/><text class="b w" x="148.3" y="1021.2">9</text>
<rect class="f" x="206.6" y="1010.7" width="81.2" height="13"/><text class="b w" x="247.2" y="1021.2">6</text>
<circle cx="298" cy="1017.2" r="7.5"/><text class="c" x="298" y="1021.2">18</text>
<rect class="n" x="52" y="1027.8" width="13.1" height="13"/><text class="b" x="58.5" y="1038.3">1</text>
<rect class="d" x="65.1" y="1027.8" width="91.9" height="13"/><text class="b" x="111" y="1038.3">7</text>
<rect class="j" x="157" y="1027.8" width="142.6" height="13"/><text class="b w" x="228.3" y="1038.3">11</text>
<rect class="f" x="299.6" y="1027.8" width="22.3" height="13"/><text class="b w" x="310.7" y="1038.3">2</text>
<rect class="m" x="321.9" y="1027.8" width="32.7" height="13"/><text class="b w" x="338.2" y="1038.3">3</text>
<circle cx="385" cy="1034.3" r="7.5"/><text class="c" x="385" y="1038.3">24</text>
<rect class="d" x="52" y="1044.9" width="13.1" height="13"/><text class="b" x="58.5" y="1055.4">1</text>
<rect class="j" x="65.1" y="1044.9" width="52.4" height="13"/><text class="b w" x="91.3" y="1055.4">4</text>
<rect class="f" x="117.5" y="1044.9" width="116.8" height="13"/><text class="b w" x="175.9" y="1055.4">9</text>
<circle cx="245" cy="1051.4" r="7.5"/><text class="c" x="245" y="1055.4">14</text>
<circle cx="60" cy="1068.5" r="7.5"/><text class="c" x="60" y="1072.5">0</text>
<circle cx="60" cy="1085.6" r="7.5"/><text class="c" x="60" y="1089.6">0</text>
<circle cx="60" cy="1102.7" r="7.5"/><text class="c" x="60" y="1106.7">0</text>
<circle cx="60" cy="1119.8" r="7.5"/><text class="c" x="60" y="1123.8">0</text>
<line class="ds" x1="187" y1="975" x2="187" y2="1127"/>

<rect class="d" x="213" y="1157" width="14" height="14"/><text class="l" x="232" y="1168">Декабрь (среднее — 1.2)</text>
<rect class="f" x="380" y="1157" width="14" height="14"/><text class="l" x="398" y="1168">Февраль (среднее — 3.2)</text>
<rect class="n" x="52" y="1176" width="14" height="14"/><text class="l" x="70" y="1187">Ноябрь (среднее — 0.4)</text>
<rect class="j" x="213" y="1176" width="14" height="14"/><text class="l" x="232" y="1187">Январь (среднее — 4.9)</text>
<rect class="m" x="380" y="1176" width="14" height="14"/><text class="l" x="398" y="1187">Март (среднее  —  0.6)</text>
<circle cx="57" cy="1206" r="7"/><text class="c" x="57" y="1210">32</text>
<text class="l" x="68" y="1211">Общее количество дней в году</text>
<line class="dl" x1="250" y1="1207" x2="313" y2="1207"/>
<text class="l" x="318" y="1211">Среднее количество дней в году (10.3)</text>
</g>

<!-- ============ PANEL 6 ============ -->
<text class="t" x="810" y="916">Кокшетау</text>
<text class="t2" x="814" y="951" textLength="165" lengthAdjust="spacingAndGlyphs">WCI &lt; —40.0</text>
<g>
<line class="g" x1="586" y1="975" x2="586" y2="1127"/>
<line class="g" x1="687.4" y1="975" x2="687.4" y2="1127"/>
<line class="g" x1="788.8" y1="975" x2="788.8" y2="1127"/>
<line class="g" x1="890.2" y1="975" x2="890.2" y2="1127"/>
<line class="g" x1="991.6" y1="975" x2="991.6" y2="1127"/>
<line class="a" x1="586" y1="1127" x2="1040" y2="1127"/>
<text class="k" x="588" y="1145">0</text><text class="k" x="688" y="1145">1</text><text class="k" x="789" y="1145">2</text><text class="k" x="890" y="1145">3</text><text class="k" x="992" y="1145">4</text>
<text class="y" x="548" y="987">2021</text><text class="y" x="548" y="1004">2020</text><text class="y" x="548" y="1021">2019</text><text class="y" x="548" y="1038">2018</text><text class="y" x="548" y="1055">2017</text><text class="y" x="548" y="1072">2016</text><text class="y" x="548" y="1090">2015</text><text class="y" x="548" y="1107">2014</text><text class="y" x="548" y="1124">2013</text>
<rect class="f" x="586" y="976.5" width="202.8" height="13"/><text class="b w" x="680" y="987">2</text>
<circle cx="799" cy="983" r="7.5"/><text class="c" x="799" y="987">2</text>
<circle cx="594" cy="1000.1" r="7.5"/><text class="c" x="594" y="1004.1">0</text>
<rect class="f" x="586" y="1010.7" width="202.8" height="13"/><text class="b w" x="680" y="1021.2">3</text>
<circle cx="799" cy="1017.2" r="7.5"/><text class="c" x="799" y="1021.2">2</text>
<rect class="d" x="586" y="1027.8" width="101.4" height="13"/><text class="b" x="634" y="1038.3">7</text>
<rect class="j" x="687.4" y="1027.8" width="304.2" height="13"/><text class="b w" x="839" y="1038.3">3</text>
<circle cx="1002" cy="1034.3" r="7.5"/><text class="c" x="1002" y="1038.3">4</text>
<circle cx="594" cy="1051.4" r="7.5"/><text class="c" x="594" y="1055.4">0</text>
<circle cx="594" cy="1068.5" r="7.5"/><text class="c" x="594" y="1072.5">0</text>
<circle cx="594" cy="1085.6" r="7.5"/><text class="c" x="594" y="1089.6">0</text>
<circle cx="594" cy="1102.7" r="7.5"/><text class="c" x="594" y="1106.7">0</text>
<circle cx="594" cy="1119.8" r="7.5"/><text class="c" x="594" y="1123.8">0</text>
<line class="ds" x1="677" y1="975" x2="677" y2="1127"/>

<rect class="d" x="742" y="1157" width="14" height="14"/><text class="l" x="762" y="1168">Декабрь (среднее — 0.1)</text>
<rect class="f" x="907" y="1157" width="14" height="14"/><text class="l" x="926" y="1168">Февраль (среднее — 0.4)</text>
<rect class="j" x="742" y="1176" width="14" height="14"/><text class="l" x="762" y="1187">Январь (среднее — 0.3)</text>
<circle cx="592" cy="1206" r="7"/><text class="c" x="592" y="1210">4</text>
<text class="l" x="605" y="1211">Общее количество дней в году</text>
<line class="dl" x1="782" y1="1207" x2="846" y2="1207"/>
<text class="l" x="851" y="1211">Среднее количество дней в году (0.9)</text>
</g>

<!-- ============ PANEL 7 ============ -->
<text class="t" x="278" y="1277">Костанай</text>
<text class="t2" x="278" y="1310" textLength="275" lengthAdjust="spacingAndGlyphs">—39.9 &lt; WCI &lt; —28.0</text>
<g>
<line class="g" x1="52" y1="1333" x2="52" y2="1461"/>
<line class="g" x1="128" y1="1333" x2="128" y2="1461"/>
<line class="g" x1="204" y1="1333" x2="204" y2="1461"/>
<line class="g" x1="280" y1="1333" x2="280" y2="1461"/>
<line class="g" x1="356" y1="1333" x2="356" y2="1461"/>
<line class="g" x1="432" y1="1333" x2="432" y2="1461"/>
<line class="a" x1="52" y1="1461" x2="507" y2="1461"/>
<text class="k" x="54" y="1478">0</text><text class="k" x="130" y="1478">5</text><text class="k" x="205" y="1478">10</text><text class="k" x="280" y="1478">15</text><text class="k" x="357" y="1478">20</text><text class="k" x="432" y="1478">25</text>
<text class="y" x="20" y="1346">2021</text><text class="y" x="20" y="1363">2020</text><text class="y" x="20" y="1381">2019</text><text class="y" x="20" y="1398">2018</text><text class="y" x="20" y="1415">2017</text><text class="y" x="20" y="1433">2016</text><text class="y" x="20" y="1450">2015</text>
<rect class="j" x="52" y="1335.5" width="152" height="13"/><text class="b w" x="128" y="1346">10</text>
<rect class="f" x="204" y="1335.5" width="182.4" height="13"/><text class="b w" x="295" y="1346">12</text>
<circle cx="396" cy="1342" r="7.5"/><text class="c" x="396" y="1346">22</text>
<rect class="d" x="52" y="1352.8" width="76" height="13"/><text class="b" x="90" y="1363.3">5</text>
<rect class="j" x="128" y="1352.8" width="15.2" height="13"/><text class="b w" x="135.6" y="1363.3">1</text>
<circle cx="153" cy="1359.3" r="7.5"/><text class="c" x="153" y="1363.3">6</text>
<rect class="n" x="52" y="1370.1" width="30.4" height="13"/><text class="b" x="67.2" y="1380.6">2</text>
<rect class="j" x="82.4" y="1370.1" width="121.6" height="13"/><text class="b w" x="143.2" y="1380.6">8</text>
<rect class="f" x="204" y="1370.1" width="45.6" height="13"/><text class="b w" x="226.8" y="1380.6">3</text>
<circle cx="260" cy="1376.6" r="7.5"/><text class="c" x="260" y="1380.6">13</text>
<rect class="d" x="52" y="1387.4" width="91.2" height="13"/><text class="b" x="97.6" y="1397.9">6</text>
<rect class="j" x="143.2" y="1387.4" width="136.8" height="13"/><text class="b w" x="211.6" y="1397.9">9</text>
<rect class="f" x="280" y="1387.4" width="45.6" height="13"/><text class="b w" x="302.8" y="1397.9">3</text>
<rect class="m" x="325.6" y="1387.4" width="91.2" height="13"/><text class="b w" x="371.2" y="1397.9">6</text>
<circle cx="427" cy="1393.9" r="7.5"/><text class="c" x="427" y="1397.9">24</text>
<rect class="d" x="52" y="1404.7" width="45.6" height="13"/><text class="b" x="74.8" y="1415.2">3</text>
<rect class="j" x="97.6" y="1404.7" width="45.6" height="13"/><text class="b w" x="120.4" y="1415.2">3</text>
<rect class="f" x="143.2" y="1404.7" width="182.4" height="13"/><text class="b w" x="234.4" y="1415.2">12</text>
<circle cx="336" cy="1411.2" r="7.5"/><text class="c" x="336" y="1415.2">18</text>
<circle cx="60" cy="1428.5" r="7.5"/><text class="c" x="60" y="1432.5">0</text>
<circle cx="60" cy="1445.8" r="7.5"/><text class="c" x="60" y="1449.8">0</text>
<line class="ds" x1="212" y1="1333" x2="212" y2="1461"/>

<rect class="d" x="213" y="1482" width="14" height="14"/><text class="l" x="232" y="1493">Декабрь (среднее — 2.0)</text>
<rect class="f" x="380" y="1482" width="14" height="14"/><text class="l" x="398" y="1493">Февраль (среднее — 4.3)</text>
<rect class="n" x="52" y="1501" width="14" height="14"/><text class="l" x="70" y="1512">Ноябрь (среднее — 0.3)</text>
<rect class="j" x="213" y="1501" width="14" height="14"/><text class="l" x="232" y="1512">Январь (среднее — 4.4)</text>
<rect class="m" x="380" y="1501" width="14" height="14"/><text class="l" x="398" y="1512">Март (среднее  —  0.9)</text>
<circle cx="57" cy="1531" r="7"/><text class="c" x="57" y="1535">22</text>
<text class="l" x="68" y="1536">Общее количество дней в году</text>
<line class="dl" x1="250" y1="1532" x2="313" y2="1532"/>
<text class="l" x="318" y="1536">Среднее количество дней в году (11.9)</text>
</g>

<!-- ============ PANEL 8 ============ -->
<text class="t" x="810" y="1277">Костанай</text>
<text class="t2" x="814" y="1310" textLength="165" lengthAdjust="spacingAndGlyphs">WCI &lt; —40.0</text>
<g>
<line class="g" x1="586" y1="1333" x2="586" y2="1461"/>
<line class="g" x1="767" y1="1333" x2="767" y2="1461"/>
<line class="g" x1="948" y1="1333" x2="948" y2="1461"/>
<line class="a" x1="586" y1="1461" x2="1040" y2="1461"/>
<text class="k" x="588" y="1478">0</text><text class="k" x="767" y="1478">1</text><text class="k" x="948" y="1478">2</text>
<text class="y" x="548" y="1346">2021</text><text class="y" x="548" y="1363">2020</text><text class="y" x="548" y="1381">2019</text><text class="y" x="548" y="1398">2018</text><text class="y" x="548" y="1415">2017</text><text class="y" x="548" y="1433">2016</text><text class="y" x="548" y="1450">2015</text>
<circle cx="595" cy="1342" r="7.5"/><text class="c" x="595" y="1346">0</text>
<circle cx="595" cy="1359.3" r="7.5"/><text class="c" x="595" y="1363.3">0</text>
<rect class="f" x="586" y="1370.1" width="362" height="13"/><text class="b w" x="761" y="1380.6">2</text>
<circle cx="958" cy="1376.6" r="7.5"/><text class="c" x="958" y="1380.6">2</text>
<circle cx="595" cy="1393.9" r="7.5"/><text class="c" x="595" y="1397.9">0</text>
<circle cx="595" cy="1411.2" r="7.5"/><text class="c" x="595" y="1415.2">0</text>
<circle cx="595" cy="1428.5" r="7.5"/><text class="c" x="595" y="1432.5">0</text>
<circle cx="595" cy="1445.8" r="7.5"/><text class="c" x="595" y="1449.8">0</text>
<line class="ds" x1="636" y1="1333" x2="636" y2="1461"/>

<rect class="f" x="907" y="1482" width="14" height="14"/><text class="l" x="926" y="1493">Февраль (среднее — 0.3)</text>
<circle cx="592" cy="1531" r="7"/><text class="c" x="592" y="1535">2</text>
<text class="l" x="605" y="1536">Общее количество дней в году</text>
<line class="dl" x1="782" y1="1532" x2="846" y2="1532"/>
<text class="l" x="851" y="1536">Среднее количество дней в году (0.3)</text>
</g>
</svg>
</body></html>
